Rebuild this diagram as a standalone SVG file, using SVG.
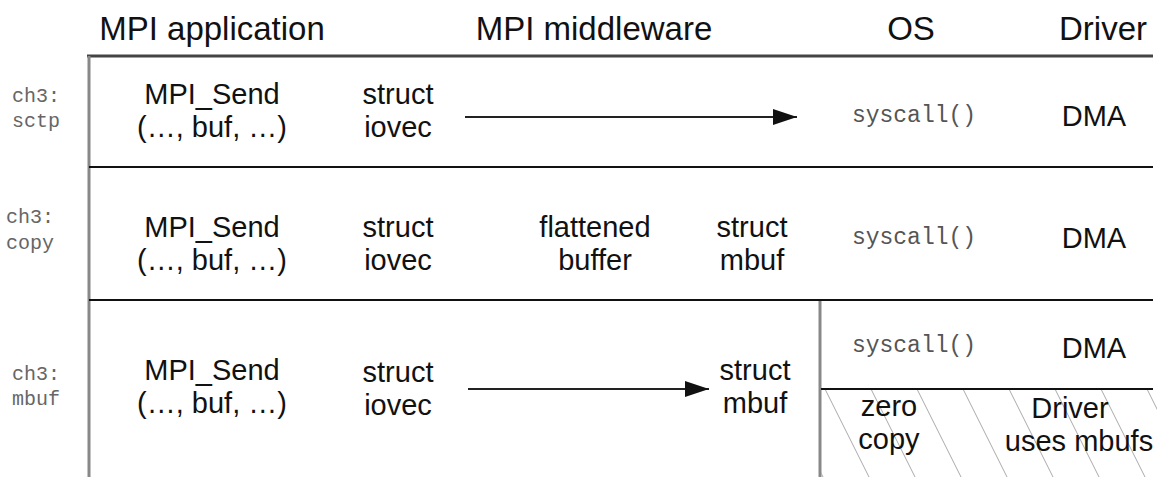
<svg xmlns="http://www.w3.org/2000/svg" width="1157" height="477" viewBox="0 0 1157 477">
  <style>
    .hdr { font-family: "Liberation Sans", Arial, sans-serif; font-size: 33px; fill: #111; text-anchor: middle; }
    .txt { font-family: "Liberation Sans", Arial, sans-serif; font-size: 29px; fill: #111; text-anchor: middle; }
    .mono { font-family: "Liberation Mono", "Courier New", monospace; font-size: 20px; fill: #666; }
    .sys { font-family: "Liberation Mono", "Courier New", monospace; font-size: 23px; fill: #555; text-anchor: middle; }
    .grid { stroke: #111; stroke-width: 2; fill: none; }
    .edge { stroke: #888; stroke-width: 3; fill: none; }
    .top { stroke: #444; stroke-width: 3; fill: none; }
    .hatch { stroke: #aaa; stroke-width: 1; }
    .flow { stroke: #222; stroke-width: 2; fill: none; }
  </style>
  <defs>
    <marker id="arrowBig" markerWidth="24" markerHeight="16" refX="24" refY="8" orient="auto" markerUnits="userSpaceOnUse">
      <path d="M0,0 L24,8 L0,16 Z" fill="#111"/>
    </marker>
    <clipPath id="zeroCopyClip">
      <rect x="821" y="390" width="336" height="87"/>
    </clipPath>
  </defs>

  <rect width="1157" height="477" fill="#fff"/>

  <!-- column headings -->
  <g id="headers">
    <text class="hdr" x="212" y="40">MPI application</text>
    <text class="hdr" x="594" y="40">MPI middleware</text>
    <text class="hdr" x="911" y="40">OS</text>
    <text class="hdr" x="1103" y="40">Driver</text>
  </g>

  <!-- table frame -->
  <g id="frame">
    <line class="top" x1="87" y1="56" x2="1153" y2="56"/>
    <line class="edge" x1="89" y1="56" x2="89" y2="477"/>
    <line class="grid" x1="89" y1="167" x2="1153" y2="167"/>
    <line class="grid" x1="89" y1="300" x2="1153" y2="300"/>
    <line class="edge" x1="820" y1="301" x2="820" y2="477"/>
    <line class="grid" x1="821" y1="389" x2="1153" y2="389"/>
  </g>

  <!-- hatched zero-copy cell -->
  <g id="zero-copy-hatch" clip-path="url(#zeroCopyClip)">
    <line class="hatch" x1="733" y1="389" x2="777" y2="477"/>
    <line class="hatch" x1="779" y1="389" x2="823" y2="477"/>
    <line class="hatch" x1="825" y1="389" x2="869" y2="477"/>
    <line class="hatch" x1="871" y1="389" x2="915" y2="477"/>
    <line class="hatch" x1="917" y1="389" x2="961" y2="477"/>
    <line class="hatch" x1="963" y1="389" x2="1007" y2="477"/>
    <line class="hatch" x1="1009" y1="389" x2="1053" y2="477"/>
    <line class="hatch" x1="1055" y1="389" x2="1099" y2="477"/>
    <line class="hatch" x1="1101" y1="389" x2="1145" y2="477"/>
    <line class="hatch" x1="1147" y1="389" x2="1191" y2="477"/>
  </g>

  <!-- connectors -->
  <g id="connectors">
    <line class="flow" x1="465" y1="117" x2="797" y2="117" marker-end="url(#arrowBig)"/>
    <line class="flow" x1="468" y1="389" x2="709" y2="389" marker-end="url(#arrowBig)"/>
  </g>

  <!-- row: ch3:sctp -->
  <g id="row-sctp">
    <text class="mono" x="12" y="102">ch3:</text>
    <text class="mono" x="12" y="127">sctp</text>
    <text class="txt" x="212" y="104">MPI_Send</text>
    <text class="txt" x="212" y="137">(…, buf, …)</text>
    <text class="txt" x="398" y="104">struct</text>
    <text class="txt" x="398" y="137">iovec</text>
    <text class="sys" x="914" y="122">syscall()</text>
    <text class="txt" x="1094" y="126">DMA</text>
  </g>

  <!-- row: ch3:copy -->
  <g id="row-copy">
    <text class="mono" x="6" y="223">ch3:</text>
    <text class="mono" x="6" y="249">copy</text>
    <text class="txt" x="212" y="237">MPI_Send</text>
    <text class="txt" x="212" y="270">(…, buf, …)</text>
    <text class="txt" x="398" y="237">struct</text>
    <text class="txt" x="398" y="270">iovec</text>
    <text class="txt" x="595" y="237">flattened</text>
    <text class="txt" x="595" y="270">buffer</text>
    <text class="txt" x="752" y="237">struct</text>
    <text class="txt" x="752" y="270">mbuf</text>
    <text class="sys" x="914" y="244">syscall()</text>
    <text class="txt" x="1094" y="248">DMA</text>
  </g>

  <!-- row: ch3:mbuf -->
  <g id="row-mbuf">
    <text class="mono" x="12" y="380">ch3:</text>
    <text class="mono" x="12" y="405">mbuf</text>
    <text class="txt" x="212" y="380">MPI_Send</text>
    <text class="txt" x="212" y="413">(…, buf, …)</text>
    <text class="txt" x="398" y="382">struct</text>
    <text class="txt" x="398" y="415">iovec</text>
    <text class="txt" x="755" y="380">struct</text>
    <text class="txt" x="755" y="413">mbuf</text>
    <text class="sys" x="914" y="352">syscall()</text>
    <text class="txt" x="1094" y="358">DMA</text>
    <text class="txt" x="889" y="416">zero</text>
    <text class="txt" x="889" y="449">copy</text>
    <text class="txt" x="1070" y="418">Driver</text>
    <text class="txt" x="1079" y="451">uses mbufs</text>
  </g>
</svg>
